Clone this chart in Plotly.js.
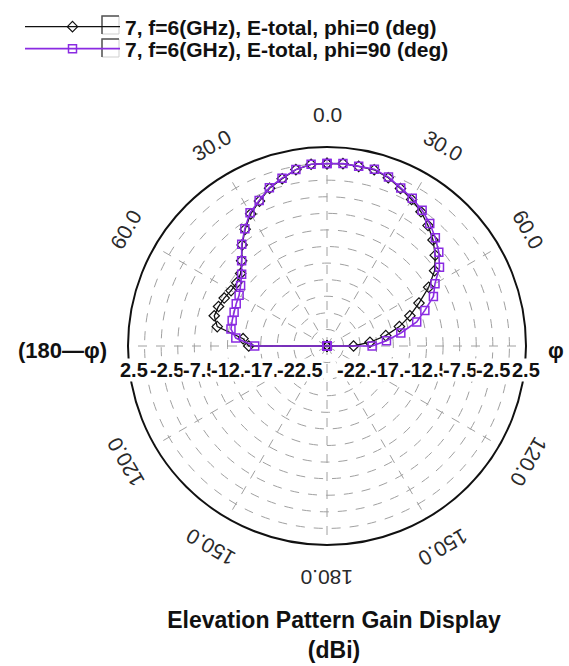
<!DOCTYPE html>
<html><head><meta charset="utf-8">
<script src="https://cdn.plot.ly/plotly-3.0.1.min.js"></script>
<style>html,body{margin:0;padding:0;background:#fff}#chart{width:569px;height:666px}</style>
</head><body><div id="chart"></div>
<script>
// Elevation angle (deg, clockwise from zenith); 270..355 = left half (180-phi side)
const theta = [0,5,10,15,20,25,30,35,40,45,50,55,60,65,70,75,80,85,90,
  95,100,105,110,115,120,125,130,135,140,145,150,155,160,165,170,175,180,
  185,190,195,200,205,210,215,220,225,230,235,240,245,250,255,260,265,
  270,275,280,285,290,295,300,305,310,315,320,325,330,335,340,345,350,355,360];
// phi = 0 deg (black)
const gainPhi0 = [0.0,0.1,0.0,0.0,-0.5,-1.3,-2.0,-2.8,-3.8,-4.9,-6.2,-7.7,-9.8,-12.2,-14.2,-16.2,-18.5,-21.0,-23.5,
  -27.5,-27.5,-27.5,-27.5,-27.5,-27.5,-27.5,-27.5,-27.5,-27.5,-27.5,-27.5,-27.5,-27.5,-27.5,-27.5,-27.5,-27.5,
  -27.5,-27.5,-27.5,-27.5,-27.5,-27.5,-27.5,-27.5,-27.5,-27.5,-27.5,-27.5,-27.5,-27.5,-27.5,-27.5,-27.5,
  -15.7,-14.8,-10.7,-9.9,-10.1,-10.4,-10.8,-10.9,-10.5,-9.3,-7.6,-6.0,-4.5,-3.4,-2.2,-1.4,-0.5,0.0,0.0];
// phi = 90 deg (purple)
const gainPhi90 = [0.0,0.1,0.0,0.1,-0.4,-1.2,-1.8,-2.5,-3.4,-4.4,-5.5,-6.8,-8.7,-9.8,-11.8,-13.5,-16.2,-18.5,-20.7,
  -27.5,-27.5,-27.5,-27.5,-27.5,-27.5,-27.5,-27.5,-27.5,-27.5,-27.5,-27.5,-27.5,-27.5,-27.5,-27.5,-27.5,-27.5,
  -27.5,-27.5,-27.5,-27.5,-27.5,-27.5,-27.5,-27.5,-27.5,-27.5,-27.5,-27.5,-27.5,-27.5,-27.5,-27.5,-27.5,
  -16.6,-13.7,-12.8,-12.7,-12.6,-12.4,-12.2,-11.6,-10.7,-9.3,-7.5,-5.9,-4.3,-3.3,-2.1,-1.3,-0.5,0.0,0.0];
const seriesNames = ["7, f=6(GHz), E-total, phi=0 (deg)", "7, f=6(GHz), E-total, phi=90 (deg)"];
// angular tick labels (angle, text)
const angTickVals = [0,30,60,120,150,180,-30,-60,-120,-150];
const angTickText = ["0.0","30.0","60.0","120.0","150.0","180.0","30.0","60.0","120.0","150.0"];
// radial tick labels
const radTickVals = [2.5,-2.5,-7.5,-12.5,-17.5,-22.5];
const radTickText = ["2.5","-2.5","-7.5","-12.5","-17.5","-22.5"];
const rMin = -27.5, rMax = 2.5;

const W = 569, H = 666;
const cx = 327, cy = 346, R = 199;
const px = x => x / W, py = y => 1 - y / H;
const FONT = 'Liberation Sans, Arial';
const rowY = [25, 48];

const traces = [
  {type:'scatterpolar', r: gainPhi0, theta: theta, mode:'lines+markers', name: seriesNames[0], legend:'legend',
   line:{color:'#111111', width:1.3}, marker:{symbol:'diamond-open', size:8, color:'#111111', line:{width:1.2}}},
  {type:'scatterpolar', r: gainPhi90, theta: theta, mode:'lines+markers', name: seriesNames[1], legend:'legend2',
   line:{color:'#8a2be2', width:1.6}, marker:{symbol:'square-open', size:8, color:'#8a2be2', line:{width:1.5}}}
];

const annotations = [];
angTickVals.forEach((a, i) => {
  const t = a * Math.PI / 180, rr = R + 33;
  annotations.push({xref:'paper', yref:'paper', x: px(cx + rr*Math.sin(t)), y: py(cy - rr*Math.cos(t)),
    text: angTickText[i], showarrow:false, textangle: a, xanchor:'center', yanchor:'middle',
    font:{family:FONT, size:21, color:'#2a2a2a'}});
});
radTickVals.forEach((v, i) => {
  const rr = (v - rMin) / (rMax - rMin) * R;
  annotations.push({xref:'paper', yref:'paper', x: px(cx - rr + 6), y: py(370), text: radTickText[i],
    showarrow:false, xanchor:'center', yanchor:'middle', bgcolor:'white', borderpad:0,
    font:{family:FONT, size:20, color:'#111', weight:'bold'}});
});
radTickVals.slice().reverse().forEach((v, i) => {
  const rr = (v - rMin) / (rMax - rMin) * R;
  annotations.push({xref:'paper', yref:'paper', x: px(cx + rr), y: py(370), text: radTickText[radTickText.length-1-i],
    showarrow:false, xanchor:'center', yanchor:'middle', bgcolor:'white', borderpad:0,
    font:{family:FONT, size:20, color:'#111', weight:'bold'}});
});
annotations.push({xref:'paper', yref:'paper', x: px(62), y: py(350), text:'(180\u2014\u03c6)', showarrow:false,
  xanchor:'center', yanchor:'middle', font:{family:FONT, size:22, color:'#111', weight:'bold'}});
annotations.push({xref:'paper', yref:'paper', x: px(556), y: py(350), text:'\u03c6', showarrow:false,
  xanchor:'center', yanchor:'middle', font:{family:FONT, size:22, color:'#111', weight:'bold'}});

const shapes = [];
rowY.forEach(y => {
  shapes.push({type:'rect', xref:'paper', yref:'paper', x0:px(102), x1:px(119), y0:py(y-9), y1:py(y+9),
    line:{color:'#cfcfcf', width:1}, fillcolor:'white'});
  shapes.push({type:'path', xref:'paper', yref:'paper',
    path:`M ${px(102)} ${py(y+9)} L ${px(102)} ${py(y-9)} L ${px(119)} ${py(y-9)}`,
    line:{color:'#555', width:1.5}});
});

const legendBase = {x: px(20), xanchor:'left', yanchor:'middle', bgcolor:'rgba(0,0,0,0)',
  font:{family:FONT, size:21, color:'#111', weight:'bold'}, itemwidth:95};

const layout = {
  width: W, height: H, margin:{l:0,r:0,t:0,b:0}, paper_bgcolor:'white',
  showlegend: true,
  legend: Object.assign({}, legendBase, {y: py(rowY[0] + 2)}),
  legend2: Object.assign({}, legendBase, {y: py(rowY[1] + 1)}),
  title:{text:'Elevation Pattern Gain Display<br>(dBi)', x: px(334), xanchor:'center', y: py(628), yanchor:'top',
    font:{family:FONT, size:23, color:'#111', weight:'bold'}},
  polar:{
    domain:{x:[px(cx-R), px(cx+R)], y:[py(cy+R), py(cy-R)]},
    bgcolor:'white',
    angularaxis:{rotation:90, direction:'clockwise', tickmode:'array', tickvals:[0,30,60,90,120,150,180,210,240,270,300,330],
      showticklabels:false, ticks:'', showline:true, linecolor:'#111', linewidth:2,
      showgrid:true, gridcolor:'#a0a0a0', gridwidth:1, griddash:'dash'},
    radialaxis:{range:[rMin, rMax], tick0:2.5, dtick:2.5, showticklabels:false, ticks:'', showline:false,
      showgrid:true, gridcolor:'#a0a0a0', gridwidth:1, griddash:'dash'}
  },
  annotations: annotations,
  shapes: shapes
};
Plotly.newPlot('chart', traces, layout, {displayModeBar:false, staticPlot:true});
</script></body></html>
